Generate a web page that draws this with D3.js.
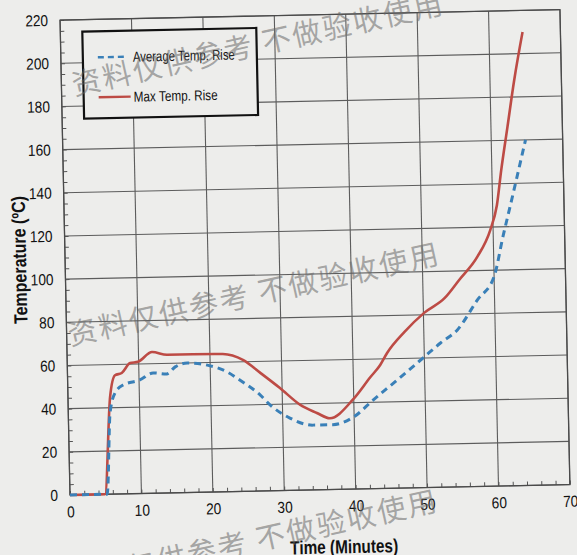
<!DOCTYPE html>
<html>
<head>
<meta charset="utf-8">
<script src="https://cdn.jsdelivr.net/npm/d3@7"></script>
<style>
  body { margin: 0; background: #ededeb; }
  svg { display: block; }
  .lbl { font-family: "Liberation Sans", Arial, sans-serif; }
</style>
</head>
<body>
<svg width="577" height="555"></svg>
<script>
// readings taken off the scanned chart
var avgMinutes = [0, 5.2, 5.85, 6.6, 7.75, 10.1, 12, 13.9, 15.1, 16.8, 19.6, 22.4, 24.1, 26.9, 28.3, 31,
                  34.2, 37, 39.9, 42.7, 46.1, 49.8, 52.3, 54.7, 57.6, 60, 61.4, 62.5, 63.5, 64.8];
var avgTemp    = [0, 0, 37.6, 46.8, 50.4, 52.6, 55.7, 55.1, 58.3, 60, 58.8, 55.4, 51.6, 44.5, 39.7, 33.5,
                  30, 30, 33.3, 41, 50, 60, 66.8, 72.7, 86.4, 97, 116, 130, 143, 160];

var maxMinutes = [0, 4.9, 5.9, 6.65, 7.6, 8.8, 9.9, 11.9, 14, 17.6, 21.8, 24.6, 27, 29.7, 32.5, 34.8,
                  36.6, 39.9, 42.4, 43.8, 44.8, 47.3, 50.1, 53, 55.1, 57.7, 59.6, 60.6, 61.3, 62.3, 63.4, 64.7];
var maxTemp    = [0, 0, 45, 55, 56, 60.5, 61, 65.4, 64, 64, 63.8, 60.9, 54.7, 47.5, 39.5, 35.6,
                  33, 41.5, 51.7, 57.2, 62.7, 72.3, 80.9, 87.5, 95.8, 106.3, 118.6, 130, 146, 166, 188, 210];

var xTicks = [0, 10, 20, 30, 40, 50, 60, 70];
var yTicks = [0, 20, 40, 60, 80, 100, 120, 140, 160, 180, 200, 220];
var seriesNames = ["Average Temp. Rise", "Max Temp. Rise"];
var watermark = "资料仅供参考 不做验收使用";

var svg = d3.select("svg");

var plotLeft = 70, plotRight = 570, plotTop = 20, plotBottom = 495;
var x = d3.scaleLinear().domain([0, 70]).range([plotLeft, plotRight]);
var y = d3.scaleLinear().domain([0, 220]).range([plotBottom, plotTop]);

// the scan sits a little crooked, so the whole chart is turned with it
var chart = svg.append("g")
    .attr("transform", "rotate(-1.2," + plotLeft + "," + plotBottom + ")");

// grid
chart.append("g")
    .selectAll("line")
    .data(xTicks)
    .enter()
    .append("line")
    .attr("x1", function(d) { return x(d); })
    .attr("x2", function(d) { return x(d); })
    .attr("y1", plotTop)
    .attr("y2", plotBottom)
    .attr("stroke", "#5c5c5c")
    .attr("stroke-width", 1.1);

chart.append("g")
    .selectAll("line")
    .data(yTicks)
    .enter()
    .append("line")
    .attr("x1", plotLeft)
    .attr("x2", plotRight)
    .attr("y1", function(d) { return y(d); })
    .attr("y2", function(d) { return y(d); })
    .attr("stroke", "#5c5c5c")
    .attr("stroke-width", 1.1);

// minor ticks, pointing into the plot
var minorX = chart.append("g")
    .attr("transform", "translate(0," + plotBottom + ")")
    .call(d3.axisBottom(x).tickValues(d3.range(0, 71, 2)).tickSize(-4).tickFormat(""));
var minorY = chart.append("g")
    .attr("transform", "translate(" + plotLeft + ",0)")
    .call(d3.axisLeft(y).tickValues(d3.range(0, 221, 5)).tickSize(-4).tickFormat(""));
[minorX, minorY].forEach(function(a) {
    a.select(".domain").remove();
    a.selectAll("line").attr("stroke", "#555").attr("stroke-width", 1);
});

// labels (the print uses a condensed face, so squeeze the digits a little)
var xAxis = chart.append("g")
    .attr("transform", "translate(0," + plotBottom + ")")
    .call(d3.axisBottom(x).tickValues(xTicks).tickSize(0).tickPadding(11));
var yAxis = chart.append("g")
    .attr("transform", "translate(" + plotLeft + ",0)")
    .call(d3.axisLeft(y).tickValues(yTicks).tickSize(0).tickPadding(12));
[xAxis, yAxis].forEach(function(a) {
    a.select(".domain").remove();
    a.selectAll("text")
        .attr("class", "lbl")
        .style("font-size", "16px")
        .attr("fill", "#111")
        .attr("textLength", function(d) { return String(d).length * 7.6; })
        .attr("lengthAdjust", "spacingAndGlyphs");
});

// plot frame
chart.append("rect")
    .attr("x", plotLeft)
    .attr("y", plotTop)
    .attr("width", plotRight - plotLeft)
    .attr("height", plotBottom - plotTop)
    .attr("fill", "none")
    .attr("stroke", "#4a4a4a")
    .attr("stroke-width", 1.3);

// curves
var avgData = avgMinutes.map(function(m, i) { return [m, avgTemp[i]]; });
var maxData = maxMinutes.map(function(m, i) { return [m, maxTemp[i]]; });

var line = d3.line()
    .x(function(d) { return x(d[0]); })
    .y(function(d) { return y(d[1]); })
    .curve(d3.curveMonotoneX);

chart.append("path")
    .datum(maxData)
    .attr("d", line)
    .attr("fill", "none")
    .attr("stroke", "#bd4b45")
    .attr("stroke-width", 2.6);

chart.append("path")
    .datum(avgData)
    .attr("d", line)
    .attr("fill", "none")
    .attr("stroke", "#3a80b8")
    .attr("stroke-width", 3)
    .attr("stroke-dasharray", "7,5");

// legend
var legend = chart.append("g").attr("transform", "translate(92,32)");
legend.append("rect")
    .attr("width", 174)
    .attr("height", 87)
    .attr("fill", "#ededeb")
    .attr("stroke", "#111")
    .attr("stroke-width", 2.2);

var legendRows = legend.selectAll("g.row")
    .data(seriesNames)
    .enter()
    .append("g")
    .attr("class", "row")
    .attr("transform", function(d, i) { return "translate(0," + (26 + i * 40) + ")"; });

legendRows.append("line")
    .attr("x1", 15)
    .attr("x2", function(d, i) { return i == 0 ? 44 : 47; })
    .attr("stroke", function(d, i) { return i == 0 ? "#3a80b8" : "#bd4b45"; })
    .attr("stroke-width", 2.4)
    .attr("stroke-dasharray", function(d, i) { return i == 0 ? "6,4" : null; });

legendRows.append("text")
    .attr("class", "lbl")
    .attr("x", 50)
    .attr("dy", "0.35em")
    .style("font-size", "14.5px")
    .attr("fill", "#111")
    .attr("textLength", function(d, i) { return i == 0 ? 102 : 84; })
    .attr("lengthAdjust", "spacingAndGlyphs")
    .text(function(d) { return d; });

// axis titles
chart.append("text")
    .attr("class", "lbl")
    .attr("transform", "translate(31,259) rotate(-90)")
    .attr("text-anchor", "middle")
    .style("font-size", "19px")
    .style("font-weight", "bold")
    .attr("fill", "#111")
    .attr("textLength", 128)
    .attr("lengthAdjust", "spacingAndGlyphs")
    .text("Temperature (ºC)");

chart.append("text")
    .attr("class", "lbl")
    .attr("x", 343)
    .attr("y", 559)
    .attr("text-anchor", "middle")
    .style("font-size", "19px")
    .style("font-weight", "bold")
    .attr("fill", "#111")
    .attr("textLength", 108)
    .attr("lengthAdjust", "spacingAndGlyphs")
    .text("Time (Minutes)");

// scan watermark, three copies
var wmX = [87, 83, 81];
var wmY = [82, 332, 579];
svg.append("g")
    .selectAll("text")
    .data(wmY)
    .enter()
    .append("text")
    .attr("transform", function(d, i) { return "translate(" + wmX[i] + "," + d + ") rotate(-12.5)"; })
    .attr("x", -15)
    .attr("dy", "0.36em")
    .style("font-family", "'Noto Sans CJK SC', sans-serif")
    .style("font-size", "29px")
    .style("letter-spacing", "2px")
    .attr("fill", "#666")
    .attr("fill-opacity", 0.55)
    .text(watermark);
</script>
</body>
</html>
